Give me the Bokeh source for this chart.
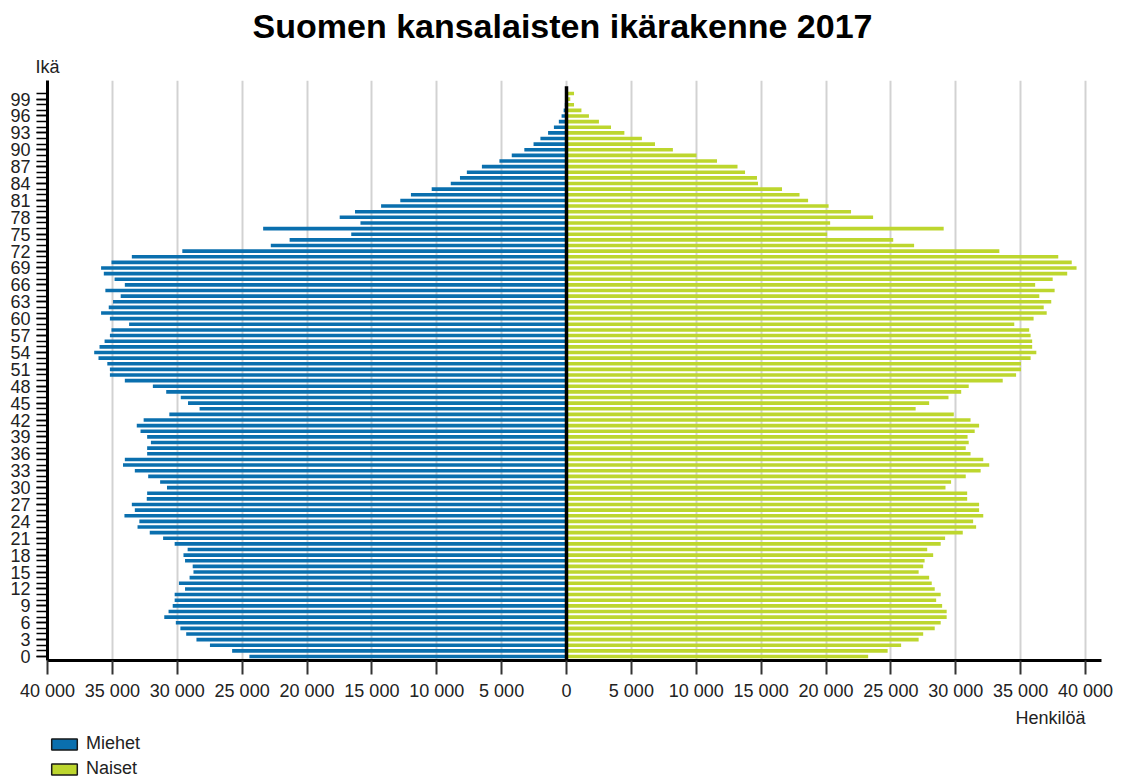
from bokeh.plotting import figure
from bokeh.layouts import column
from bokeh.models import (ColumnDataSource, FixedTicker, Legend, LegendItem, Title, Range1d)
from bokeh.core.properties import value
from bokeh.embed import file_html
from bokeh.resources import INLINE

# ---- data ----
ages = list(range(0, 101))
men = [24440, 25770, 27480, 28520, 29310, 29760, 30110, 31000, 30670, 30350,
       30200, 30200, 29400, 29870, 29050, 28750, 28810, 29400, 29520, 29200,
       30200, 31090, 32120, 33060, 32920, 34070, 33270, 33500, 32350, 32320,
       30790, 31320, 32240, 33270, 34180, 34040, 32320, 32320, 32030, 32320,
       32830, 33120, 32590, 30610, 28280, 29170, 29730, 30850, 31880, 34040,
       35190, 35190, 35390, 36070, 36400, 35990, 35600, 35190, 35070, 33710,
       35190, 35870, 35280, 34950, 34360, 35540, 34040, 34830, 35660, 35870,
       35070, 33500, 29610, 22790, 21340, 16590, 23380, 15880, 17480, 16300,
       14290, 12810, 11990, 10390, 8920, 8210, 7680, 6520, 5170, 4220,
       3250, 2540, 2010, 1420, 970, 590, 380, 220, 130, 70,
       40]
women = [23250, 24750, 25790, 27140, 27490, 28380, 28840, 29300, 29300, 28950,
         28490, 28840, 28380, 28150, 27950, 27140, 27490, 27600, 28260, 27800,
         28840, 29180, 30540, 31570, 31340, 32120, 31800, 31800, 30880, 30880,
         29210, 29640, 30770, 31920, 32580, 32120, 31140, 30770, 31000, 30910,
         31460, 31800, 31140, 29850, 26910, 27950, 29440, 30420, 31000, 33620,
         34650, 35030, 35030, 35770, 36210, 35890, 35890, 35770, 35660, 34510,
         36000, 37010, 36780, 37360, 36440, 37620, 36120, 37470, 38590, 39310,
         38940, 37900, 33360, 26790, 25180, 20090, 29070, 20320, 23630, 21930,
         20200, 18620, 17960, 16610, 14760, 14680, 13760, 13180, 11600, 10020,
         8200, 6820, 5810, 4460, 3430, 2500, 1730, 1150, 580, 290,
         580]
x_ticks = list(range(-40000, 40001, 5000))
x_tick_labels = ["40 000", "35 000", "30 000", "25 000", "20 000", "15 000",
                 "10 000", "5 000", "0", "5 000", "10 000", "15 000", "20 000",
                 "25 000", "30 000", "35 000", "40 000"]
y_ticks = list(range(0, 100, 3))
title_text = "Suomen kansalaisten ikärakenne 2017"
series_names = ["Miehet", "Naiset"]

BLUE = "#0a6fae"
GREEN = "#bdd62e"
FONT = "Liberation Sans"
TXT = "#222222"
NAN = float("nan")

src = ColumnDataSource(data=dict(
    age=ages,
    mleft=[-v for v in men],
    wright=women,
    zero=[0] * len(ages),
))

X_RANGE = (-40000, 41233)

# ---- title strip ----
top = figure(frame_width=1054, frame_height=48, output_backend="svg",
             toolbar_location=None,
             x_range=Range1d(*X_RANGE), y_range=Range1d(0, 48),
             x_axis_location=None, y_axis_location=None,
             min_border_left=47, min_border_right=24,
             min_border_top=0, min_border_bottom=0)
top.outline_line_color = None
top.xgrid.grid_line_color = None
top.ygrid.grid_line_color = None
top.text(x=[0], y=[23], text=[title_text], x_offset=-4,
         text_font=value(FONT), text_font_style="bold", text_font_size="34px",
         text_color="black", text_align="center", text_baseline="middle")

# ---- main chart ----
y_lo, y_hi = -0.71, 102.3
p = figure(frame_width=1054, frame_height=580,
           x_range=Range1d(*X_RANGE), y_range=Range1d(y_lo, y_hi),
           output_backend="svg", toolbar_location=None,
           min_border_left=47, min_border_right=24,
           min_border_top=32, min_border_bottom=72)
p.outline_line_color = None
p.background_fill_color = "white"

p.hbar(y="age", left="mleft", right="zero", height=0.64, source=src,
       fill_color=BLUE, line_color=None)
p.hbar(y="age", left="zero", right="wright", height=0.64, source=src,
       fill_color=GREEN, line_color=None)

# zero line
p.segment(x0=[0], y0=[y_lo], x1=[0], y1=[101.3], line_color="black", line_width=3.5)

# x axis
xa = p.xaxis[0]
xa.ticker = FixedTicker(ticks=x_ticks)
xa.major_label_overrides = {t: l for t, l in zip(x_ticks, x_tick_labels)}
xa.axis_line_width = 3
xa.axis_line_color = "black"
xa.major_tick_out = 14
xa.major_tick_in = 0
xa.major_tick_line_width = 2
xa.major_tick_line_color = "#333333"
xa.minor_tick_line_color = None
xa.major_label_text_font = FONT
xa.major_label_text_font_size = "18px"
xa.major_label_text_color = TXT
xa.major_label_standoff = 6

# y axis
ya = p.yaxis[0]
ya.ticker = FixedTicker(ticks=y_ticks, minor_ticks=list(range(0, 101)))
ya.axis_line_width = 3
ya.axis_line_color = "black"
ya.major_tick_out = 11
ya.major_tick_in = 0
ya.minor_tick_out = 11
ya.minor_tick_in = 0
ya.major_tick_line_width = 1.5
ya.minor_tick_line_width = 1.5
ya.major_tick_line_color = "black"
ya.minor_tick_line_color = "black"
ya.major_label_text_font = FONT
ya.major_label_text_font_size = "18px"
ya.major_label_text_color = TXT
ya.major_label_standoff = 6

p.xgrid.ticker = FixedTicker(ticks=x_ticks)
p.xgrid.grid_line_color = "#d2d2d2"
p.xgrid.grid_line_width = 2
p.ygrid.grid_line_color = None

p.add_layout(Title(text="Ikä", align="left", offset=-12, standoff=8,
                   text_font=FONT, text_font_size="18px", text_color=TXT,
                   text_font_style="normal"), "above")
p.add_layout(Title(text="Henkilöä", align="right", offset=16, standoff=4,
                   text_font=FONT, text_font_size="18px", text_color=TXT,
                   text_font_style="normal"), "below")

# ---- legend strip ----
lg = figure(frame_width=1054, frame_height=47, output_backend="svg",
            toolbar_location=None,
            x_range=Range1d(0, 1), y_range=Range1d(0, 1),
            x_axis_location=None, y_axis_location=None,
            min_border_left=47, min_border_right=24,
            min_border_top=0, min_border_bottom=0)
lg.outline_line_color = None
lg.xgrid.grid_line_color = None
lg.ygrid.grid_line_color = None
lm = lg.hbar(y=[NAN], left=[NAN], right=[NAN], height=0.6, fill_color=BLUE,
             line_color="#1a1a1a", line_width=1.5)
lw = lg.hbar(y=[NAN], left=[NAN], right=[NAN], height=0.6, fill_color=GREEN,
             line_color="#1a1a1a", line_width=1.5)
legend = Legend(items=[LegendItem(label=series_names[0], renderers=[lm]),
                       LegendItem(label=series_names[1], renderers=[lw])],
                location=(1, 0), orientation="vertical",
                border_line_color=None, background_fill_alpha=0,
                padding=0, margin=0, spacing=4,
                glyph_width=32, glyph_height=14, label_height=18,
                label_standoff=6, label_text_font=FONT,
                label_text_font_size="18px", label_text_color=TXT)
lg.add_layout(legend)

layout = column(top, p, lg, spacing=0)
open("out.html", "w").write(file_html(layout, INLINE))
